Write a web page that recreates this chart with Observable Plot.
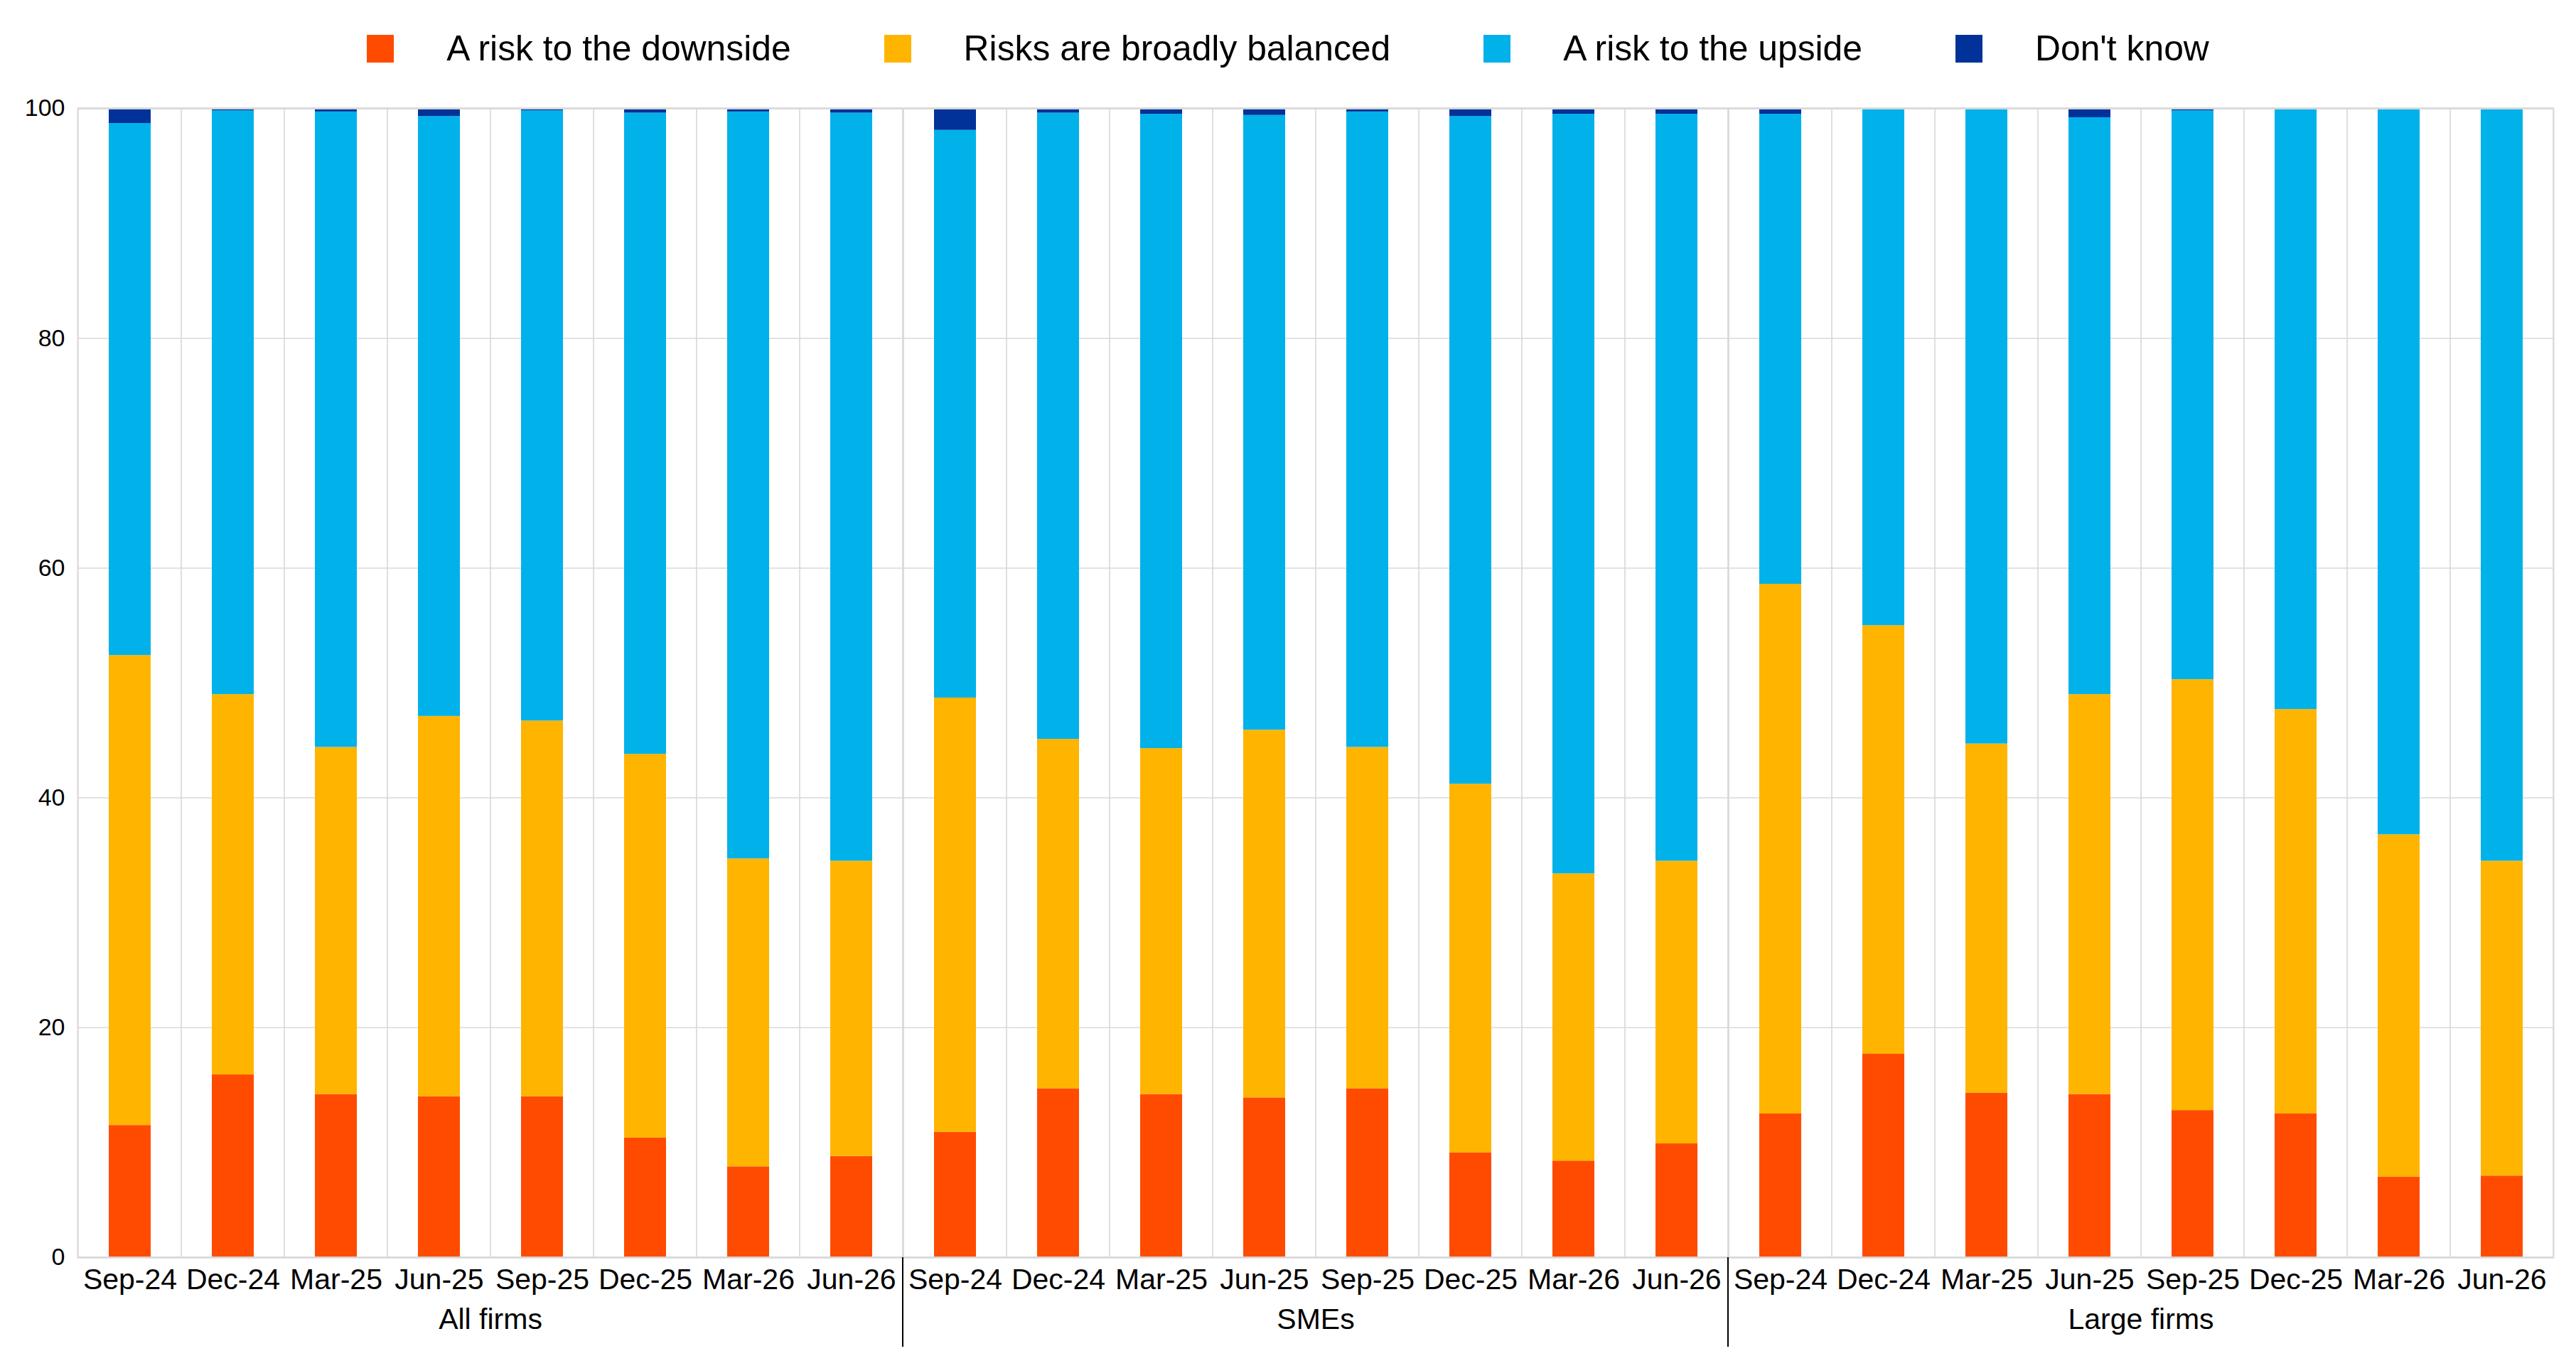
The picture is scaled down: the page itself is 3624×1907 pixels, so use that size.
<!DOCTYPE html>
<html>
<head>
<meta charset="utf-8">
<script src="https://cdn.jsdelivr.net/npm/d3@7"></script>
<script src="https://cdn.jsdelivr.net/npm/@observablehq/plot@0.6"></script>
<style>
  html, body { margin: 0; padding: 0; background: #fff; overflow: hidden; }
  body { width: 3624px; height: 1907px; font-family: "Liberation Sans", Arial, sans-serif; color: #000; }
  #legend { height: 120px; box-sizing: border-box; padding-top: 16px; display: flex; justify-content: center; align-items: center; }
  .item { display: flex; align-items: center; margin-right: 131px; font-size: 49.8px; white-space: nowrap; }
  .item:last-child { margin-right: 0; }
  .sw { width: 38px; height: 39px; margin-right: 74px; flex: none; }
</style>
</head>
<body>
<div id="legend"></div>
<div id="chart"></div>
<script>
// ---- data ----
const groups = ["All firms", "SMEs", "Large firms"];
const quarters = ["Sep-24", "Dec-24", "Mar-25", "Jun-25", "Sep-25", "Dec-25", "Mar-26", "Jun-26"];
const seriesNames = ["A risk to the downside", "Risks are broadly balanced", "A risk to the upside", "Don't know"];
const seriesColors = ["#FF4B00", "#FFB400", "#00B1EA", "#003299"];

// values per group, in quarter order
const downsideAll   = [11.5, 15.9, 14.2, 14.0, 14.0, 10.4, 7.9, 8.8];
const balancedAll   = [40.9, 33.1, 30.2, 33.1, 32.7, 33.4, 26.8, 25.7];
const upsideAll     = [46.3, 50.8, 55.3, 52.2, 53.1, 55.8, 65.0, 65.1];
const dontKnowAll   = [1.3, 0.2, 0.3, 0.7, 0.2, 0.4, 0.3, 0.4];

const downsideSME   = [10.9, 14.7, 14.2, 13.9, 14.7, 9.1, 8.4, 9.9];
const balancedSME   = [37.8, 30.4, 30.1, 32.0, 29.7, 32.1, 25.0, 24.6];
const upsideSME     = [49.4, 54.5, 55.2, 53.5, 55.3, 58.1, 66.1, 65.0];
const dontKnowSME   = [1.9, 0.4, 0.5, 0.6, 0.3, 0.7, 0.5, 0.5];

const downsideLarge = [12.5, 17.7, 14.3, 14.2, 12.8, 12.5, 7.0, 7.1];
const balancedLarge = [46.1, 37.3, 30.4, 34.8, 37.5, 35.2, 29.8, 27.4];
const upsideLarge   = [40.9, 45.0, 55.3, 50.2, 49.5, 52.3, 63.2, 65.5];
const dontKnowLarge = [0.5, 0.0, 0.0, 0.8, 0.2, 0.0, 0.0, 0.0];

const yTicks = [0, 20, 40, 60, 80, 100];

// ---- table ----
const byGroup = {
  "All firms":   [downsideAll, balancedAll, upsideAll, dontKnowAll],
  "SMEs":        [downsideSME, balancedSME, upsideSME, dontKnowSME],
  "Large firms": [downsideLarge, balancedLarge, upsideLarge, dontKnowLarge]
};
const data = [];
for (const g of groups) {
  quarters.forEach((q, qi) => {
    seriesNames.forEach((s, si) => {
      data.push({group: g, quarter: q, series: s, value: byGroup[g][si][qi]});
    });
  });
}

// ---- legend ----
const legend = document.getElementById("legend");
seriesNames.forEach((s, i) => {
  const it = document.createElement("div");
  it.className = "item";
  const sw = document.createElement("div");
  sw.className = "sw";
  sw.style.background = seriesColors[i];
  const tx = document.createElement("span");
  tx.textContent = s;
  it.appendChild(sw); it.appendChild(tx);
  legend.appendChild(it);
});

// ---- chart ----
const W = 3624, H = 1780, mL = 108, mR = 31, mT = 32, mB = 132;
const grid = "#d9d9d9";
const chart = Plot.plot({
  width: W, height: H,
  marginLeft: mL, marginRight: mR, marginTop: mT, marginBottom: mB,
  style: {fontFamily: "'Liberation Sans', Arial, sans-serif", color: "#000", background: "#fff"},
  fx: {domain: groups, padding: 0, axis: null, label: null},
  x: {domain: quarters, padding: 0, axis: null, label: null},
  y: {domain: [0, 100], axis: null, label: null},
  color: {domain: seriesNames, range: seriesColors},
  marks: [
    Plot.gridY({ticks: yTicks, stroke: grid, strokeOpacity: 1, strokeWidth: 1.5}),
    Plot.barY(quarters, {x: d => d, y1: 0, y2: 100, fill: "none", stroke: grid, strokeWidth: 1.2}),
    Plot.barY(data, Plot.stackY({order: seriesNames}, {
      fx: "group", x: "quarter", y: "value", fill: "series",
      insetLeft: 43, insetRight: 43
    })),
    Plot.ruleY([0, 100], {stroke: grid, strokeWidth: 2.5}),
    Plot.frame({stroke: grid, strokeWidth: 2}),
    Plot.axisY({ticks: yTicks, tickSize: 0, tickPadding: 18, fontSize: 34, anchor: "left"}),
    Plot.axisX({tickSize: 0, tickPadding: 15, fontSize: 41, anchor: "bottom"}),
    Plot.axisFx({anchor: "bottom", tickSize: 0, tickPadding: 71, fontSize: 41})
  ]
});
document.getElementById("chart").appendChild(chart);

// group separators below the axis, from the fx scale
const fx = chart.scale("fx");
const svg = d3.select(chart.tagName.toLowerCase() === "svg" ? chart : chart.querySelector("svg"));
groups.slice(1).forEach(g => {
  const xPos = fx.apply(g);
  svg.append("line")
    .attr("x1", xPos).attr("x2", xPos)
    .attr("y1", H - mB).attr("y2", H - mB + 126)
    .attr("stroke", "#000").attr("stroke-width", 2);
});
</script>
</body>
</html>
